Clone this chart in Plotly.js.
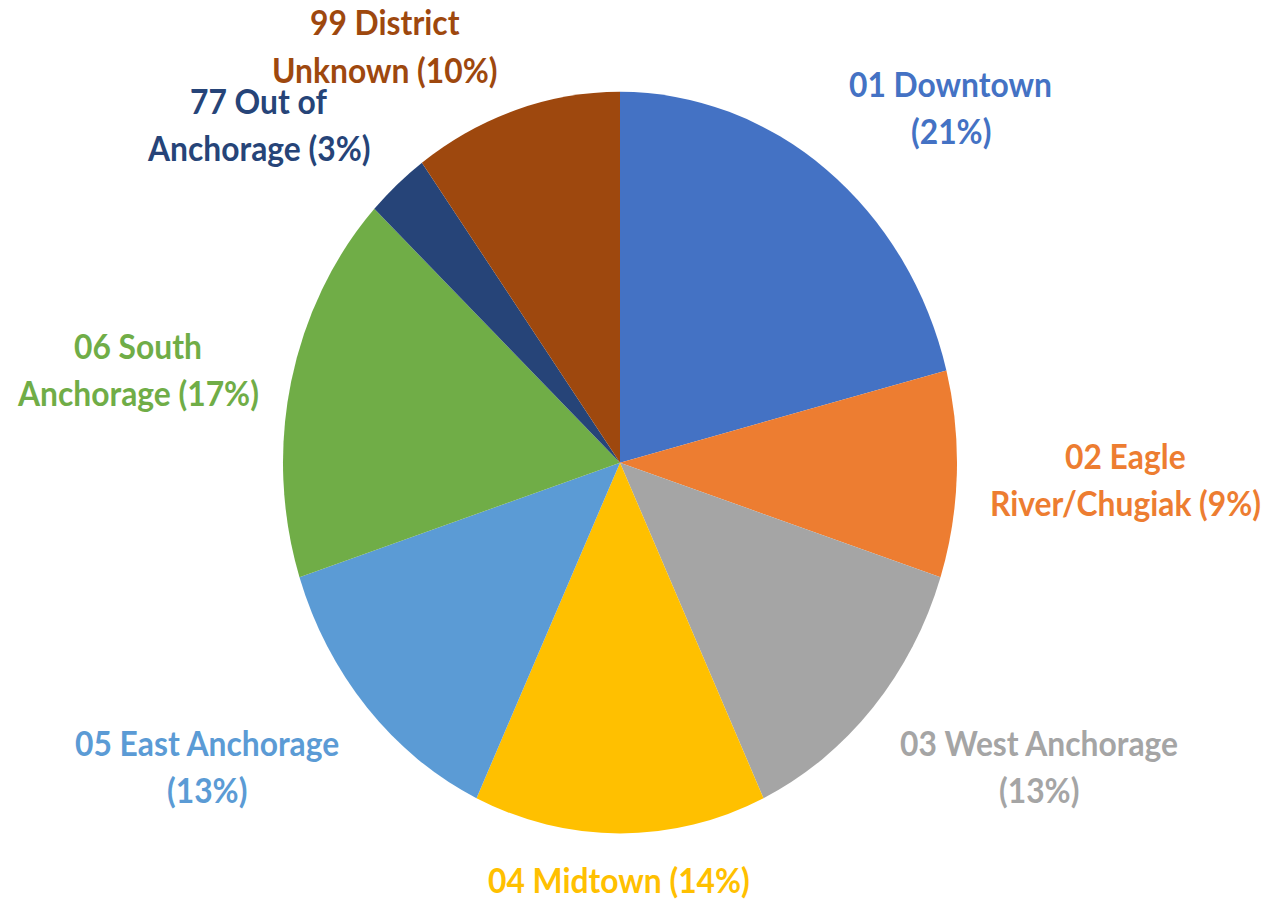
<!DOCTYPE html>
<html>
<head>
<meta charset="utf-8">
<script src="https://cdn.plot.ly/plotly-3.0.1.min.js"></script>
<style>
html,body{margin:0;padding:0;background:#fff;overflow:hidden;}
#wrap{width:1274px;height:900px;overflow:hidden;}
#chart{width:1274px;height:818px;transform:scaleY(1.10024);transform-origin:0 0;}
</style>
</head>
<body>
<div id="wrap"><div id="chart"></div></div>
<script>
const categories = ["01 Downtown","02 Eagle River/Chugiak","03 West Anchorage","04 Midtown","05 East Anchorage","06 South Anchorage","77 Out of Anchorage","99 District Unknown"];
const values = [21, 9, 13, 14, 13, 17, 3, 10];
const colors = ["#4472C4","#ED7D31","#A5A5A5","#FFC000","#5B9BD5","#70AD47","#264478","#9E480E"];
const labelLines = [
  ["01 Downtown","(21%)"],
  ["02 Eagle","River/Chugiak (9%)"],
  ["03 West Anchorage","(13%)"],
  ["04 Midtown (14%)"],
  ["05 East Anchorage","(13%)"],
  ["06 South","Anchorage (17%)"],
  ["77 Out of","Anchorage (3%)"],
  ["99 District","Unknown (10%)"]
];
// label block centres (paper coords, x then y from top in px of 1274x818 layout)
const labelPos = [
  [951, 97.7],[1125, 435.5],[1039, 696.8],[619, 800],[207, 696.8],[138, 335.5],[258, 113],[385, 41.8]
];
const W = 1274, H = 818, lineH = 42.7, fs = 31.8;
const annotations = [];
labelLines.forEach((lines, i) => {
  const [cx, cy] = labelPos[i];
  const n = lines.length;
  lines.forEach((t, k) => {
    const y = cy + (k - (n - 1) / 2) * lineH;
    annotations.push({
      text: t, x: cx / W, y: 1 - y / H, xref: 'paper', yref: 'paper',
      xanchor: 'center', yanchor: 'middle', showarrow: false,
      font: {family: 'Lato, "Open Sans", sans-serif', size: fs, color: colors[i], weight: 'bold'}
    });
  });
});
const trace = {
  type: 'pie', labels: categories, values: values, sort: false,
  direction: 'clockwise', rotation: 0,
  marker: {colors: colors, line: {width: 0}},
  textinfo: 'none', hoverinfo: 'label+percent',
  domain: {x: [(620 - 337) / W, (620 + 337) / W], y: [(397.5 - 337) / H, (397.5 + 337) / H]}
};
const layout = {
  width: W, height: H, margin: {l: 0, r: 0, t: 0, b: 0},
  paper_bgcolor: '#ffffff', showlegend: false, annotations: annotations
};
Plotly.newPlot('chart', [trace], layout, {displayModeBar: false, staticPlot: true});
</script>
</body>
</html>
